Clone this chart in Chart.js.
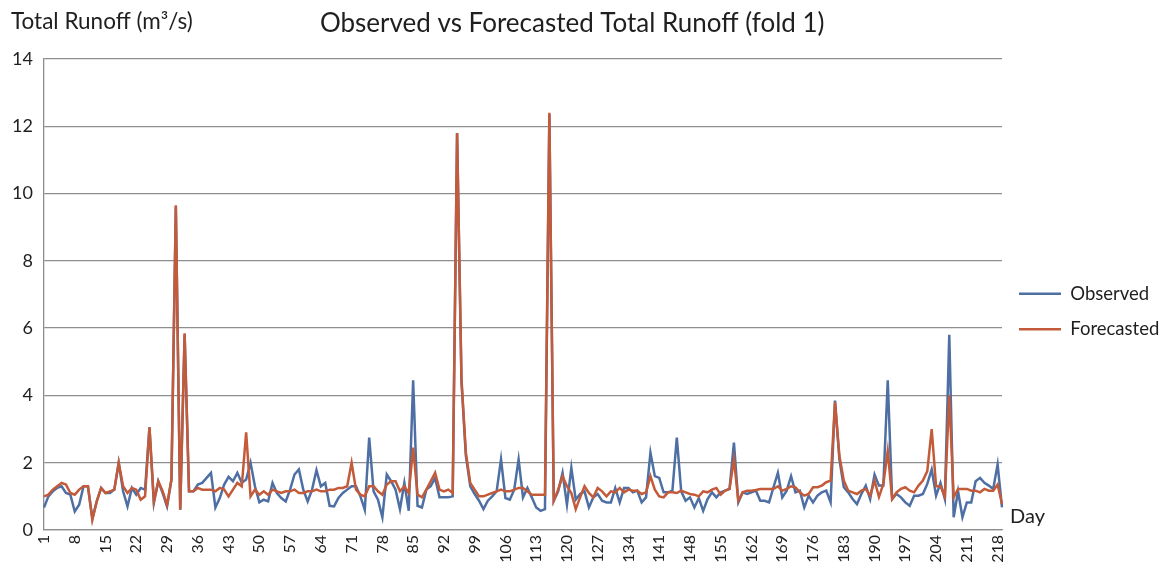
<!DOCTYPE html>
<html><head><meta charset="utf-8">
<script src="https://cdn.jsdelivr.net/npm/chart.js@4.4.0/dist/chart.umd.min.js"></script>
<style>html,body{margin:0;padding:0;background:#fff}</style>
</head><body>
<canvas id="c" width="1164" height="565"></canvas>
<script>
// Categories: days 1..219
const days = [];
for (let d = 1; d <= 219; d++) days.push(String(d));
const tickEvery = 7;
const yTicks = [0, 2, 4, 6, 8, 10, 12, 14];

const observed = [
0.67,1.0,1.15,1.25,1.3,1.1,1.05,0.55,0.75,1.3,
1.3,0.35,0.85,1.25,1.1,1.1,1.2,2.0,1.15,0.7,
1.25,1.05,1.25,1.2,3.05,0.8,1.45,1.1,0.7,1.5,
9.6,0.6,5.8,1.15,1.15,1.35,1.4,1.55,1.7,0.67,
0.95,1.35,1.58,1.45,1.7,1.4,1.5,2.0,1.3,0.82,
0.9,0.85,1.4,1.1,0.95,0.85,1.2,1.65,1.8,1.2,
0.85,1.2,1.78,1.3,1.4,0.72,0.7,0.95,1.1,1.2,
1.3,1.3,1.0,0.6,2.75,1.15,0.9,0.38,1.65,1.45,
1.2,0.62,1.4,0.57,4.45,0.72,0.67,1.2,1.3,1.55,
0.97,0.97,0.97,1.0,11.8,4.4,2.2,1.3,1.07,0.87,
0.62,0.87,1.0,1.15,2.1,0.95,0.9,1.2,2.1,0.97,
1.25,0.97,0.67,0.57,0.62,12.35,0.87,1.15,1.7,0.75,
1.85,0.9,1.07,1.15,0.67,0.97,1.07,0.87,0.82,0.82,
1.25,0.82,1.25,1.25,1.12,1.17,0.82,0.97,2.3,1.6,
1.55,1.12,1.12,1.17,2.75,1.15,0.87,0.97,0.67,0.95,
0.57,0.92,1.12,0.97,1.12,1.17,1.22,2.6,0.82,1.12,
1.07,1.12,1.17,0.87,0.87,0.82,1.27,1.7,0.97,1.17,
1.6,1.12,1.17,0.67,1.02,0.82,1.02,1.12,1.17,0.82,
3.85,2.1,1.27,1.12,0.92,0.77,1.07,1.32,0.92,1.65,
1.32,1.32,4.45,0.92,1.07,0.97,0.82,0.72,1.02,1.02,
1.07,1.37,1.8,1.02,1.4,0.92,5.8,0.38,1.15,0.38,
0.82,0.82,1.45,1.55,1.4,1.32,1.22,1.95,0.67
];

const forecasted = [
1.0,1.05,1.2,1.3,1.4,1.35,1.1,1.05,1.2,1.3,
1.3,0.3,0.85,1.25,1.1,1.15,1.2,2.0,1.3,1.1,
1.25,1.2,0.9,1.0,3.05,0.85,1.45,1.15,0.75,1.5,
9.65,0.6,5.85,1.15,1.15,1.25,1.2,1.2,1.2,1.15,
1.25,1.2,1.0,1.2,1.4,1.3,2.9,1.0,1.2,1.05,
1.15,1.05,1.2,1.15,1.1,1.15,1.15,1.2,1.1,1.1,
1.15,1.15,1.2,1.15,1.15,1.2,1.2,1.25,1.25,1.3,
2.0,1.2,1.05,1.0,1.3,1.3,1.15,1.05,1.35,1.45,
1.45,1.15,1.3,1.1,2.45,1.05,0.97,1.2,1.45,1.7,
1.2,1.15,1.2,1.1,11.8,4.5,2.3,1.4,1.2,1.0,
1.0,1.05,1.1,1.15,1.2,1.15,1.15,1.2,1.25,1.25,
1.15,1.05,1.05,1.05,1.05,12.4,0.87,1.2,1.6,1.3,
1.1,0.62,0.97,1.3,1.1,0.97,1.25,1.15,1.0,1.15,
1.12,1.25,1.12,1.2,1.17,1.17,1.07,1.12,1.6,1.2,
1.0,0.97,1.12,1.12,1.1,1.17,1.12,1.07,1.05,1.0,
1.15,1.12,1.2,1.25,1.05,1.17,1.22,2.1,0.87,1.12,
1.17,1.17,1.19,1.22,1.22,1.22,1.22,1.3,1.17,1.22,
1.3,1.27,1.12,1.02,1.07,1.27,1.27,1.32,1.42,1.47,
3.8,2.2,1.47,1.17,1.12,1.07,1.17,1.22,1.02,1.47,
0.98,1.37,2.35,0.92,1.12,1.22,1.27,1.17,1.12,1.32,
1.47,1.75,3.0,1.3,1.3,1.0,4.0,0.97,1.22,1.22,
1.22,1.17,1.17,1.12,1.22,1.17,1.17,1.35,0.77
];

const FONT = 'Lato, "Open Sans", sans-serif';
const TEXT = '#1f1f1f';
const GRID = '#8e8e8e';

const extraText = {
  id: 'extraText',
  afterDraw(chart) {
    const ctx = chart.ctx, ca = chart.chartArea;
    ctx.save();
    ctx.fillStyle = TEXT;
    ctx.textBaseline = 'middle';
    ctx.textAlign = 'left';
    ctx.font = '22.5px ' + FONT;
    ctx.fillText('Total Runoff (m\u00B3/s)', 11, 22);
    ctx.font = '20px ' + FONT;
    ctx.fillText('Day', ca.right + 8, ca.bottom - 13);
    ctx.restore();
  }
};

new Chart(document.getElementById('c'), {
  type: 'line',
  data: {
    labels: days,
    datasets: [
      { label: 'Observed', data: observed, borderColor: '#4D6FA3', backgroundColor: '#4D6FA3',
        borderWidth: 2.5, pointRadius: 0, tension: 0, fill: false, order: 1 },
      { label: 'Forecasted', data: forecasted, borderColor: '#C35A3A', backgroundColor: '#C35A3A',
        borderWidth: 2.5, pointRadius: 0, tension: 0, fill: false, order: 0 }
    ]
  },
  options: {
    responsive: false,
    animation: false,
    layout: { padding: { left: 0, right: 0, top: 0, bottom: 0 } },
    plugins: {
      title: { display: true, text: 'Observed vs Forecasted Total Runoff (fold 1)\u2003', color: TEXT,
        font: { family: FONT, size: 26, weight: 'normal' }, padding: { top: 8, bottom: 19.8 } },
      legend: { position: 'right', align: 'center', maxWidth: 162,
        title: { display: true, text: ' ', font: { size: 10 }, padding: { top: 0, bottom: 46 } },
        labels: { usePointStyle: true, pointStyle: 'line', pointStyleWidth: 42, color: TEXT,
          font: { family: FONT, size: 18.5 }, padding: 17,
          sort: (a, b) => a.datasetIndex - b.datasetIndex } },
      tooltip: { enabled: false }
    },
    scales: {
      x: {
        type: 'category', offset: false,
        grid: { display: false, drawTicks: false },
        border: { display: true, color: GRID, width: 1.3 },
        ticks: { autoSkip: false, maxRotation: 90, minRotation: 90, padding: 5, color: TEXT,
          font: { family: FONT, size: 16 },
          callback: (v, i) => (i % tickEvery === 0 ? days[i] : null) },
        afterFit: s => { s.height = 35; }
      },
      y: {
        min: 0, max: 14,
        afterBuildTicks: s => { s.ticks = yTicks.map(v => ({ value: v })); },
        ticks: { padding: 11, color: TEXT, font: { family: FONT, size: 18 } },
        grid: { color: GRID, lineWidth: 1.3, drawTicks: false },
        border: { display: true, color: GRID, width: 1.3 },
        afterFit: s => { s.width = 44; }
      }
    }
  },
  plugins: [extraText]
});
</script>
</body></html>
